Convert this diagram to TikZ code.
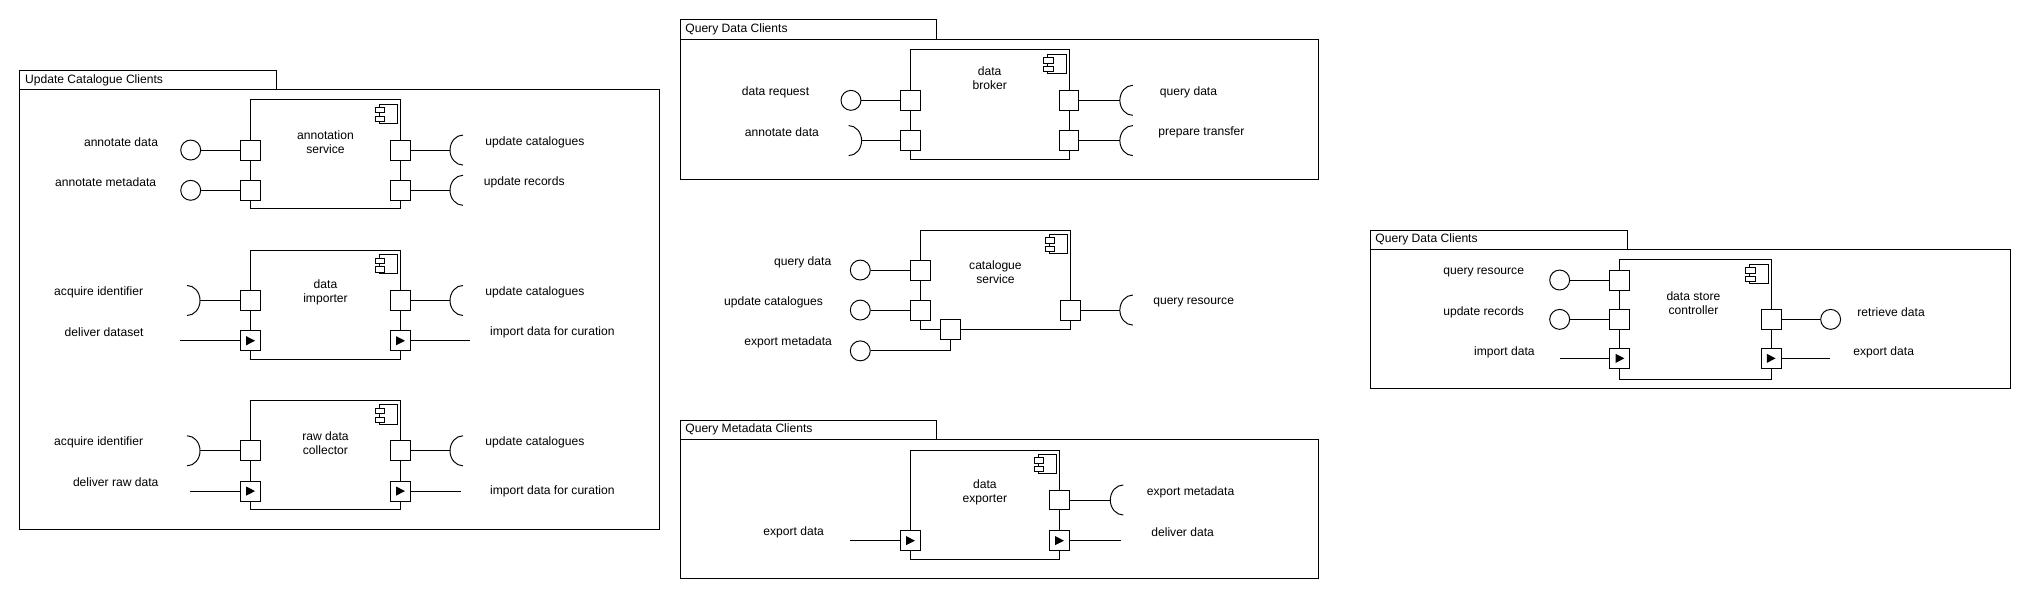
\documentclass[tikz,border=0pt]{standalone}
\usepackage{fontspec}
\setmainfont{Liberation Sans}
\tikzset{
  compicon/.pic={
    \draw[fill=white] (-14.2,0) rectangle (0,14.9);
    \draw[fill=white] (-17.3,2.6) rectangle (-10.1,6.7);
    \draw[fill=white] (-17.3,9.3) rectangle (-10.1,13.4);
  }
}
\newcommand\sockL[1]{\draw ([shift={(10,11.6)}]#1) arc[start angle=90,end angle=270,x radius=10,y radius=11.6];}
\newcommand\sockR[1]{\draw ([shift={(-10,11.6)}]#1) arc[start angle=90,end angle=-90,x radius=10,y radius=11.6];}
\begin{document}
\begin{tikzpicture}[x=1pt,y=-1pt,line width=0.75pt,
  every node/.style={font=\fontsize{9.35}{10.8}\selectfont},
  comp/.style={draw,rectangle,inner sep=0,fill=white},
  port/.style={draw,fill=white,rectangle,minimum size=15.4pt,inner sep=0},
  aport/.style={port,path picture={\fill[black] ([shift={(-3.3,-3.5)}]path picture bounding box.center) -- ++(6.8,3.5) -- ++(-6.8,3.5) -- cycle;}},
  lolli/.style={draw,circle,minimum size=15.4pt,inner sep=0},
  lbl/.style={inner sep=0,align=center},
  ttl/.style={inner sep=0,anchor=west},
  pkg/.style={draw}]
\useasboundingbox (0,0) rectangle (1568,463);

% ---------- packages ----------
\draw[pkg] (15.1,54.1) rectangle (213.4,69);
\draw[pkg] (15.1,69) rectangle (509.5,408.6);
\node[ttl] (t1) at (19,61.8) {Update Catalogue Clients};
\draw[pkg] (525.6,15.4) rectangle (723.3,30.4);
\draw[pkg] (525.6,30.4) rectangle (1018.5,138.5);
\node[ttl] (t2) at (529,23) {Query Data Clients};
\draw[pkg] (525.6,324.4) rectangle (723.3,339.3);
\draw[pkg] (525.6,339.3) rectangle (1018.5,446.5);
\node[ttl] (t3) at (529,332) {Query Metadata Clients};
\draw[pkg] (1058.8,177.7) rectangle (1256.8,192.6);
\draw[pkg] (1058.8,192.6) rectangle (1553,300);
\node[ttl] (t4) at (1062,185.2) {Query Data Clients};

% ---------- annotation service ----------
\node[comp,minimum width=115.8pt,minimum height=84.4pt] (as) at (251.4,119.2) {};
\pic[line width=0.6pt] at ([shift={(-2.6,3.8)}]as.north east) {compicon};
\node[lbl] (ast) at (251.4,109.7) {annotation\\service};
\node[port] (asl1) at (193.5,115.9) {};
\node[port] (asl2) at (193.5,147) {};
\node[port] (asr1) at (309.3,115.9) {};
\node[port] (asr2) at (309.3,147) {};
\node[lolli] (asi1) at (147.3,115.9) {};
\node[lolli] (asi2) at (147.3,147) {};
\coordinate (ass1) at (347.6,115.9);
\coordinate (ass2) at (347.6,147);
\draw (asi1) -- (asl1); \draw (asi2) -- (asl2);
\draw (asr1) -- (ass1); \draw (asr2) -- (ass2);
\sockL{ass1} \sockL{ass2}
\node[lbl] at (93.5,109.6) {annotate data};
\node[lbl] at (81.6,140.6) {annotate metadata};
\node[lbl] at (413.2,109.6) {update catalogues};
\node[lbl] at (404.9,140.6) {update records};

% ---------- data importer ----------
\node[comp,minimum width=115.8pt,minimum height=84.4pt] (di) at (251.4,235.4) {};
\pic[line width=0.6pt] at ([shift={(-2.6,3.8)}]di.north east) {compicon};
\node[lbl] (dit) at (251.4,225.9) {data\\importer};
\node[port] (dil1) at (193.5,232.1) {};
\node[aport] (dil2) at (193.5,263.2) {};
\node[port] (dir1) at (309.3,232.1) {};
\node[aport] (dir2) at (309.3,263.2) {};
\coordinate (dis1) at (154.5,232.1);
\coordinate (die1) at (139,263.2);
\coordinate (dis2) at (347.6,232.1);
\coordinate (die2) at (363.3,263.2);
\draw (dis1) -- (dil1); \draw (die1) -- (dil2);
\draw (dir1) -- (dis2); \draw (dir2) -- (die2);
\sockR{dis1} \sockL{dis2}
\node[lbl] at (76.2,225.5) {acquire identifier};
\node[lbl] at (80.4,256.5) {deliver dataset};
\node[lbl] at (413.2,225.5) {update catalogues};
\node[lbl] at (426.6,256.5) {import data for curation};

% ---------- raw data collector ----------
\node[comp,minimum width=115.8pt,minimum height=84.4pt] (rc) at (251.4,351.5) {};
\pic[line width=0.6pt] at ([shift={(-2.6,3.8)}]rc.north east) {compicon};
\node[lbl] (rct) at (251.4,342) {raw data\\collector};
\node[port] (rcl1) at (193.5,348.2) {};
\node[aport] (rcl2) at (193.5,379.3) {};
\node[port] (rcr1) at (309.3,348.2) {};
\node[aport] (rcr2) at (309.3,379.3) {};
\coordinate (rcs1) at (154.5,348.2);
\coordinate (rce1) at (146.7,379.3);
\coordinate (rcs2) at (347.6,348.2);
\coordinate (rce2) at (355.7,379.3);
\draw (rcs1) -- (rcl1); \draw (rce1) -- (rcl2);
\draw (rcr1) -- (rcs2); \draw (rcr2) -- (rce2);
\sockR{rcs1} \sockL{rcs2}
\node[lbl] at (76.2,341.6) {acquire identifier};
\node[lbl] at (89.4,372.5) {deliver raw data};
\node[lbl] at (413.2,341.6) {update catalogues};
\node[lbl] at (426.6,379.5) {import data for curation};

% ---------- data broker ----------
\node[comp,minimum width=122.5pt,minimum height=84.4pt] (db) at (764.45,80.8) {};
\pic[line width=0.6pt] at ([shift={(-2.6,3.8)}]db.north east) {compicon};
\node[lbl] (dbt) at (764.45,60.5) {data\\broker};
\node[port] (dbl1) at (703.2,77.5) {};
\node[port] (dbl2) at (703.2,108.6) {};
\node[port] (dbr1) at (825.7,77.5) {};
\node[port] (dbr2) at (825.7,108.6) {};
\node[lolli] (dbi1) at (657.3,77.5) {};
\coordinate (dbs1) at (665.5,108.6);
\coordinate (dbs2) at (865,77.5);
\coordinate (dbs3) at (865,108.6);
\draw (dbi1) -- (dbl1); \draw (dbs1) -- (dbl2);
\draw (dbr1) -- (dbs2); \draw (dbr2) -- (dbs3);
\sockR{dbs1} \sockL{dbs2} \sockL{dbs3}
\node[lbl] at (599,71.3) {data request};
\node[lbl] at (604,102.2) {annotate data};
\node[lbl] at (918,71.3) {query data};
\node[lbl] at (928,102.2) {prepare transfer};

% ---------- catalogue service ----------
\node[comp,minimum width=115.8pt,minimum height=76.8pt] (cs) at (768.9,216.1) {};
\pic[line width=0.6pt] at ([shift={(-2.6,3.8)}]cs.north east) {compicon};
\node[lbl] (cst) at (768.9,210.2) {catalogue\\service};
\node[port] (csl1) at (711,208.6) {};
\node[port] (csl2) at (711,239.5) {};
\node[port] (csb) at (734.3,254.5) {};
\node[port] (csr) at (826.8,239.5) {};
\node[lolli] (csi1) at (664.5,208.6) {};
\node[lolli] (csi2) at (664.5,239.5) {};
\node[lolli] (csi3) at (664.5,271) {};
\coordinate (css) at (865,239.5);
\draw (csi1) -- (csl1); \draw (csi2) -- (csl2);
\draw (csb.south) |- (csi3.east);
\draw (csr) -- (css);
\sockL{css}
\node[lbl] at (620,202.6) {query data};
\node[lbl] at (597.5,233.5) {update catalogues};
\node[lbl] at (608.8,264.4) {export metadata};
\node[lbl] at (922,233.5) {query resource};

% ---------- data exporter ----------
\node[comp,minimum width=115.1pt,minimum height=84.4pt] (de) at (760.75,389.8) {};
\pic[line width=0.6pt] at ([shift={(-2.6,3.8)}]de.north east) {compicon};
\node[lbl] (det) at (760.75,380) {data\\exporter};
\node[aport] (del) at (703.2,417.6) {};
\node[port] (der1) at (818.3,386.2) {};
\node[aport] (der2) at (818.3,417.6) {};
\coordinate (dee1) at (656.7,417.6);
\coordinate (des) at (857.6,386.2);
\coordinate (dee2) at (866,417.6);
\draw (dee1) -- (del);
\draw (der1) -- (des); \draw (der2) -- (dee2);
\sockL{des}
\node[lbl] at (613,411) {export data};
\node[lbl] at (919.6,380) {export metadata};
\node[lbl] at (913.5,411) {deliver data};

% ---------- data store controller ----------
\node[comp,minimum width=116.8pt,minimum height=92.2pt] (dc) at (1309.6,246.9) {};
\pic[line width=0.6pt] at ([shift={(-2.6,3.8)}]dc.north east) {compicon};
\node[lbl] (dct) at (1308,234) {data store\\controller};
\node[port] (dcl1) at (1251.2,216.3) {};
\node[port] (dcl2) at (1251.2,246.7) {};
\node[aport] (dcl3) at (1251.2,276.8) {};
\node[port] (dcr1) at (1368,246.7) {};
\node[aport] (dcr2) at (1368,276.8) {};
\node[lolli] (dci1) at (1204.7,216.3) {};
\node[lolli] (dci2) at (1204.7,246.7) {};
\node[lolli] (dci3) at (1414,246.7) {};
\coordinate (dce1) at (1205,276.8);
\coordinate (dce2) at (1413.6,276.8);
\draw (dci1) -- (dcl1); \draw (dci2) -- (dcl2); \draw (dce1) -- (dcl3);
\draw (dcr1) -- (dci3); \draw (dcr2) -- (dce2);
\node[lbl] at (1146,210.4) {query resource};
\node[lbl] at (1146,241.2) {update records};
\node[lbl] at (1162,272.2) {import data};
\node[lbl] at (1460.7,241.2) {retrieve data};
\node[lbl] at (1455,272.2) {export data};
\end{tikzpicture}
\end{document}
